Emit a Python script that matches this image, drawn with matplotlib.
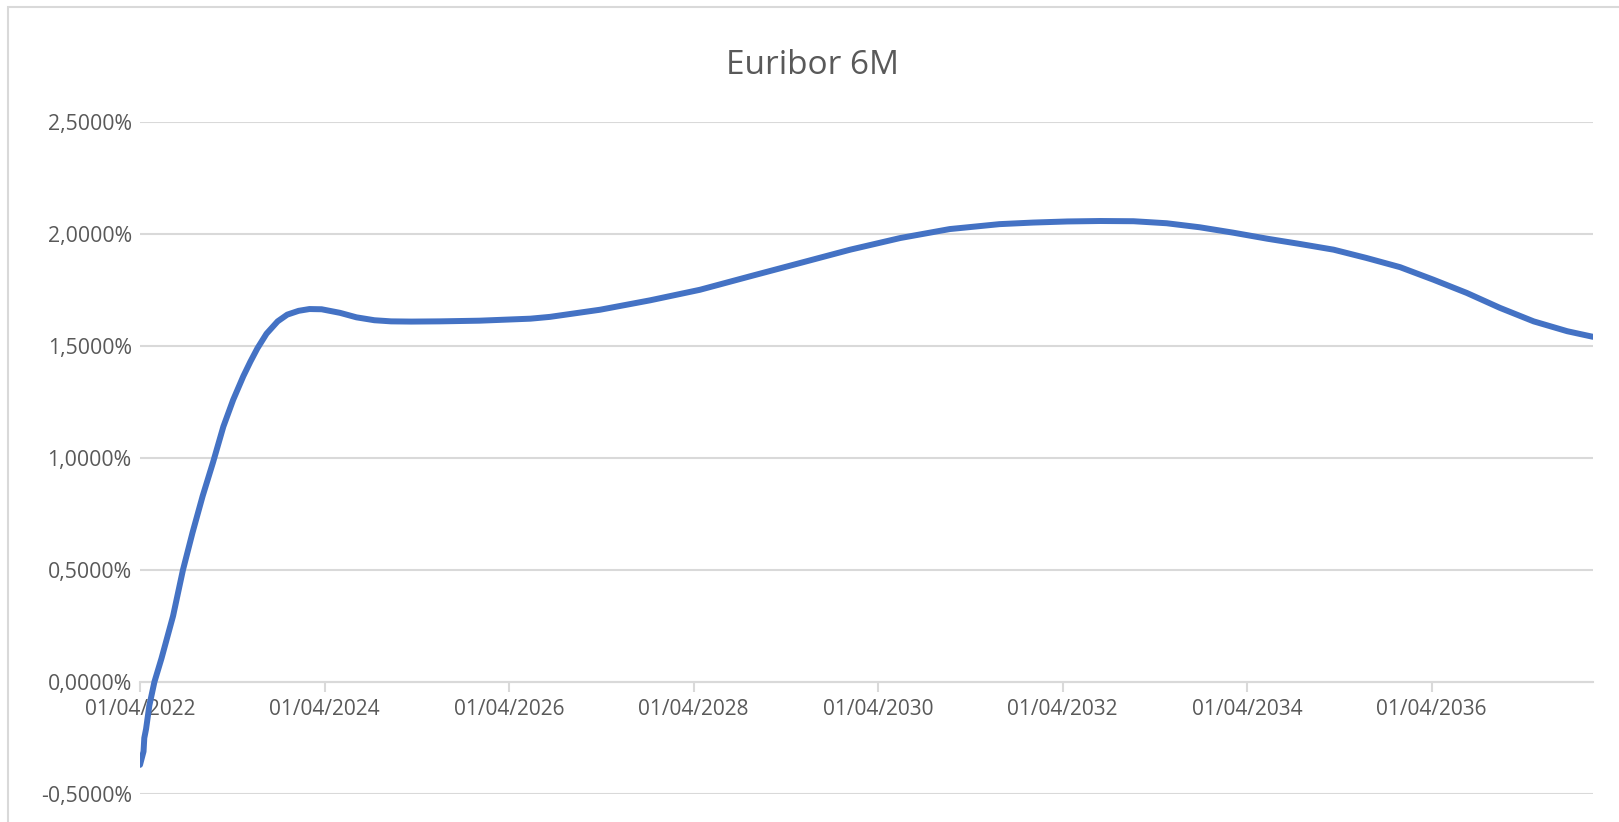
import pandas as pd
import matplotlib.pyplot as plt
import matplotlib.dates as mdates
from matplotlib.ticker import FuncFormatter, MultipleLocator
from matplotlib.patches import Rectangle

# === Données
dates = [
    "2022-04-01", "2022-04-08", "2022-04-15", "2022-04-18", "2022-04-25",
    "2022-05-08", "2022-05-28", "2022-06-25", "2022-08-10", "2022-09-18",
    "2022-10-26", "2022-12-05", "2023-01-15", "2023-02-25", "2023-04-05",
    "2023-05-15", "2023-06-12", "2023-07-10", "2023-08-15", "2023-09-28",
    "2023-11-05", "2023-12-20", "2024-02-01", "2024-03-20", "2024-06-01",
    "2024-08-05", "2024-10-15", "2024-12-20", "2025-03-10", "2025-07-01",
    "2025-12-05", "2026-06-25", "2026-09-10", "2027-03-28", "2027-10-12",
    "2028-04-26", "2028-11-10", "2029-05-26", "2029-12-12", "2030-06-28",
    "2031-01-10", "2031-07-26", "2031-12-05", "2032-04-20", "2032-08-28",
    "2033-01-07", "2033-05-18", "2033-09-26", "2034-02-05", "2034-06-20",
    "2034-10-25", "2035-03-10", "2035-07-18", "2035-11-28", "2036-04-08",
    "2036-08-18", "2036-12-28", "2037-05-10", "2037-09-20", "2037-12-31",
]
euribor_6m = [
    -0.370, -0.340, -0.310, -0.250, -0.210,
    -0.105, 0.000, 0.105, 0.295, 0.500,
    0.667, 0.830, 0.980, 1.140, 1.260,
    1.365, 1.430, 1.490, 1.555, 1.610,
    1.640, 1.657, 1.665, 1.664, 1.648,
    1.628, 1.615, 1.610, 1.609, 1.610,
    1.613, 1.622, 1.630, 1.662, 1.704,
    1.751, 1.811, 1.870, 1.930, 1.982,
    2.022, 2.044, 2.051, 2.056, 2.058,
    2.057, 2.048, 2.030, 2.006, 1.979,
    1.956, 1.930, 1.893, 1.852, 1.796,
    1.737, 1.670, 1.610, 1.566, 1.541,
]

# === Style
plt.rcParams['font.family'] = ['Open Sans', 'DejaVu Sans']
text_color = '#595959'
grid_color = '#d9d9d9'
line_color = '#4472c4'

df = pd.DataFrame({'date': pd.to_datetime(dates), 'rate': euribor_6m})

W, H = 1619, 822
fig = plt.figure(figsize=(W / 100, H / 100), dpi=100)
fig.patch.set_facecolor('white')

# cadre du graphique (capture Excel)
fig.patches.append(Rectangle((8 / W, -0.1), 1.2, (H - 7) / H + 0.1,
                             transform=fig.transFigure, fill=False,
                             edgecolor=grid_color, linewidth=1.5))

ax = fig.add_axes([140 / W, (H - 794) / H, (1593 - 140) / W, (794 - 122) / H])
ax.plot(df['date'], df['rate'], color=line_color, linewidth=4.3,
        solid_capstyle='round', solid_joinstyle='round', zorder=3)

# Axes
ax.set_ylim(-0.5, 2.5)
ax.set_xlim(df['date'].iloc[0], df['date'].iloc[-1])
ax.yaxis.set_major_locator(MultipleLocator(0.5))
ax.yaxis.set_major_formatter(FuncFormatter(lambda v, p: f"{v:.4f}%".replace('.', ',')))
ax.xaxis.set_major_locator(mdates.YearLocator(2, month=4, day=1))
ax.xaxis.set_major_formatter(mdates.DateFormatter('%d/%m/%Y'))

ax.set_axisbelow(True)
ax.grid(axis='y', color=grid_color, linewidth=1.5)
for side in ['top', 'right', 'left']:
    ax.spines[side].set_visible(False)
ax.spines['bottom'].set_position(('data', 0))
ax.spines['bottom'].set_color(grid_color)
ax.spines['bottom'].set_linewidth(1.5)

ax.tick_params(axis='y', length=0, pad=6, labelsize=15.3, labelcolor=text_color)
ax.tick_params(axis='x', direction='out', length=7, width=1.5, color=grid_color,
               pad=5, labelsize=15, labelcolor=text_color)

fig.text(812 / W, 1 - 66 / H, 'Euribor 6M', ha='center', va='center',
         fontsize=24, color=text_color)

plt.savefig('out.png', dpi=100)
plt.close()
